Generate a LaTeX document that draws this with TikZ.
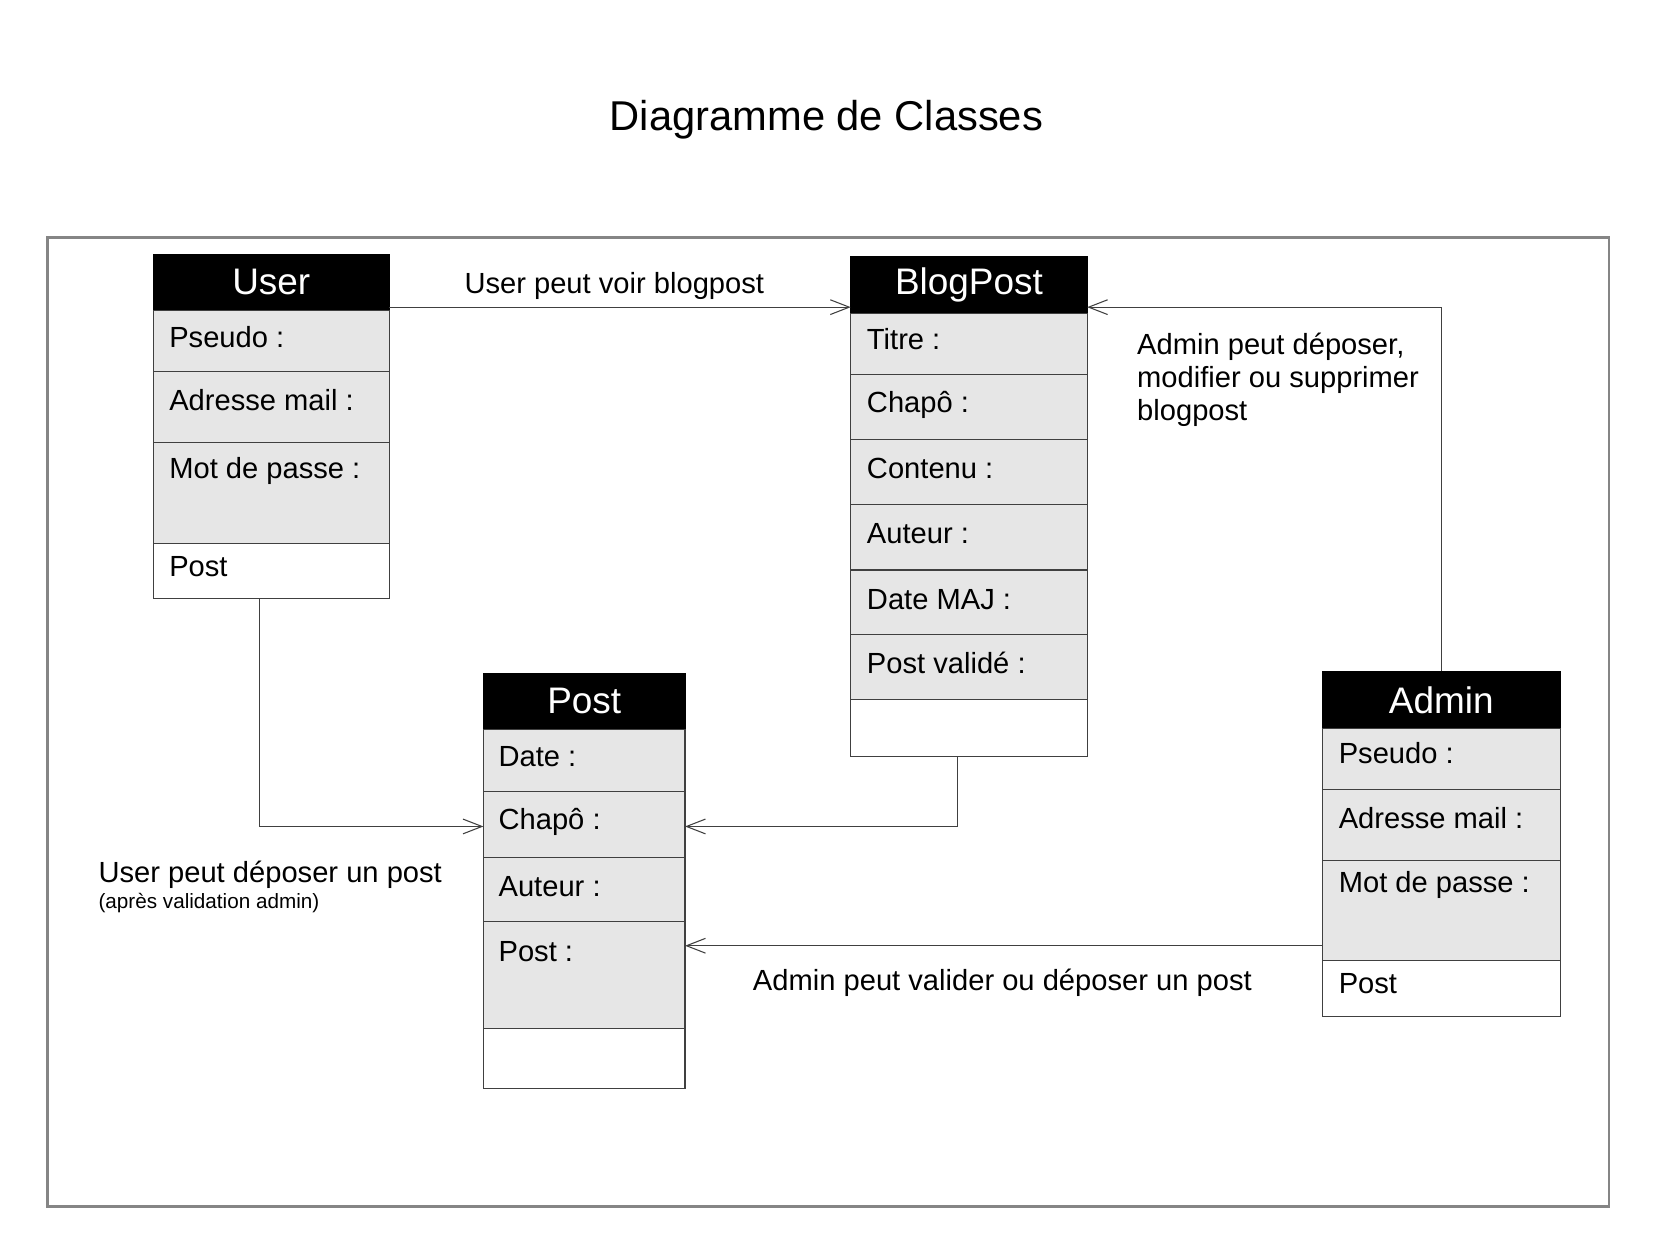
\documentclass[tikz,border=0pt]{standalone}
\usepackage{fontspec}
\setmainfont{Liberation Sans}
\usetikzlibrary{calc,arrows.meta}
\definecolor{rowgray}{HTML}{E6E6E6}
\definecolor{framegray}{HTML}{858585}
\definecolor{linegray}{HTML}{404040}
\newcommand{\attrfont}{\fontsize{13.8}{15.7}\selectfont}
\begin{document}
\begin{tikzpicture}[x=0.5pt,y=-0.5pt,
  cls/.style={draw=linegray, line width=0.5pt, minimum width=#1, inner sep=0pt, outer sep=0pt, anchor=north west},
  hdr/.style={cls=#1, fill=black, draw=black, text=white, font=\fontsize{17.5}{20}\selectfont},
  row/.style={cls=#1, fill=rowgray},
  lastrow/.style={cls=#1, fill=white},
  attr/.style={anchor=base west, inner sep=0pt, font=\attrfont},
  lbl/.style={inner sep=0pt, font=\attrfont},
  conn/.style={draw=linegray, line width=0.5pt, -{Straight Barb[length=9pt,width=7pt]}},
  frame/.style={draw=framegray, line width=1.2pt, minimum width=739.5pt, minimum height=459pt, anchor=north west, inner sep=0pt}
]
\useasboundingbox (0,0) rectangle (1568,1175);
\fill[white] (0,0) rectangle (1568,1175);

% title
\node[inner sep=0pt, anchor=base, font=\fontsize{19.75}{22}\selectfont] (title) at (783,124) {Diagramme de Classes};

% frame
\node[frame] (frm) at (44,224) {};

% ---------- User ----------
\node[hdr=112pt, minimum height=26.5pt] (uh) at (145,241) {User};
\node[row=112pt, minimum height=29pt] (u1) at (145,294) {};
\node[row=112pt, minimum height=33.5pt] (u2) at (145,352) {};
\node[row=112pt, minimum height=48pt] (u3) at (145,419) {};
\node[lastrow=112pt, minimum height=26pt] (u4) at (145,515) {};
\node[attr] (u1t) at ($(u1.north west)+(15,35)$) {Pseudo :};
\node[attr] (u2t) at ($(u2.north west)+(15,37)$) {Adresse mail :};
\node[attr] (u3t) at ($(u3.north west)+(15,34)$) {Mot de passe :};
\node[attr] (u4t) at ($(u4.north west)+(15,31)$) {Post};

% ---------- BlogPost ----------
\node[hdr=112pt, minimum height=27pt] (bh) at (806,243) {BlogPost};
\node[row=112pt, minimum height=29pt] (b1) at (806,297) {};
\node[row=112pt, minimum height=30.5pt] (b2) at (806,355) {};
\node[row=112pt, minimum height=31pt] (b3) at (806,416) {};
\node[row=112pt, minimum height=31pt] (b4) at (806,478) {};
\node[row=112pt, minimum height=30.5pt] (b5) at (806,540) {};
\node[row=112pt, minimum height=31pt] (b6) at (806,601) {};
\node[lastrow=112pt, minimum height=27pt] (b7) at (806,663) {};
\node[attr] (b1t) at ($(b1.north west)+(15,34)$) {Titre :};
\node[attr] (b2t) at ($(b2.north west)+(15,36)$) {Chapô :};
\node[attr] (b3t) at ($(b3.north west)+(15,37)$) {Contenu :};
\node[attr] (b4t) at ($(b4.north west)+(15,37)$) {Auteur :};
\node[attr] (b5t) at ($(b5.north west)+(15,37)$) {Date MAJ :};
\node[attr] (b6t) at ($(b6.north west)+(15,37)$) {Post validé :};

% ---------- Post ----------
\node[hdr=95.5pt, minimum height=26.5pt] (ph) at (458,638) {Post};
\node[row=95.5pt, minimum height=29.5pt] (p1) at (458,691) {};
\node[row=95.5pt, minimum height=31pt] (p2) at (458,750) {};
\node[row=95.5pt, minimum height=30.5pt] (p3) at (458,812) {};
\node[row=95.5pt, minimum height=50.5pt] (p4) at (458,873) {};
\node[lastrow=95.5pt, minimum height=28.5pt] (p5) at (458,974) {};
\node[attr] (p1t) at ($(p1.north west)+(14,35)$) {Date :};
\node[attr] (p2t) at ($(p2.north west)+(14,36)$) {Chapô :};
\node[attr] (p3t) at ($(p3.north west)+(14,37)$) {Auteur :};
\node[attr] (p4t) at ($(p4.north west)+(14,38)$) {Post :};

% ---------- Admin ----------
\node[hdr=112.5pt, minimum height=27pt] (ah) at (1253,636) {Admin};
\node[row=112.5pt, minimum height=29pt] (a1) at (1253,690) {};
\node[row=112.5pt, minimum height=33.5pt] (a2) at (1253,748) {};
\node[row=112.5pt, minimum height=47.5pt] (a3) at (1253,815) {};
\node[lastrow=112.5pt, minimum height=26.5pt] (a4) at (1253,910) {};
\node[attr] (a1t) at ($(a1.north west)+(15,33)$) {Pseudo :};
\node[attr] (a2t) at ($(a2.north west)+(15,37)$) {Adresse mail :};
\node[attr] (a3t) at ($(a3.north west)+(15,31)$) {Mot de passe :};
\node[attr] (a4t) at ($(a4.north west)+(15,31)$) {Post};

% ---------- connectors ----------
\draw[conn] ($(uh.south east)+(0,-3)$) -- ($(bh.south west)+(0,-6)$);
\draw[conn] (ah.north) |- ($(bh.south east)+(0,-6)$);
\draw[conn] ($(u4.south)+(-11,0)$) |- ($(p2.west)+(0,2)$);
\draw[conn] ($(b7.south)+(-11,0)$) |- ($(p2.east)+(0,2)$);
\draw[conn] ($(a3.south west)+(0,-14)$) coordinate (aa) -- (aa -| p4.east);

% ---------- labels ----------
\node[lbl, anchor=base] (l1) at (582,278) {User peut voir blogpost};
\node[lbl, anchor=north west, align=left] (l2) at (1077,315) {Admin peut déposer,\\modifier ou supprimer\\blogpost};
\node[lbl, anchor=base west] (l3) at (93,836) {User peut déposer un post};
\node[inner sep=0pt, anchor=base west, font=\fontsize{9.8}{11}\selectfont] (l3b) at (93,861) {(après validation admin)};
\node[lbl, anchor=base west] (l4) at (713,938) {Admin peut valider ou déposer un post};
\end{tikzpicture}
\end{document}
